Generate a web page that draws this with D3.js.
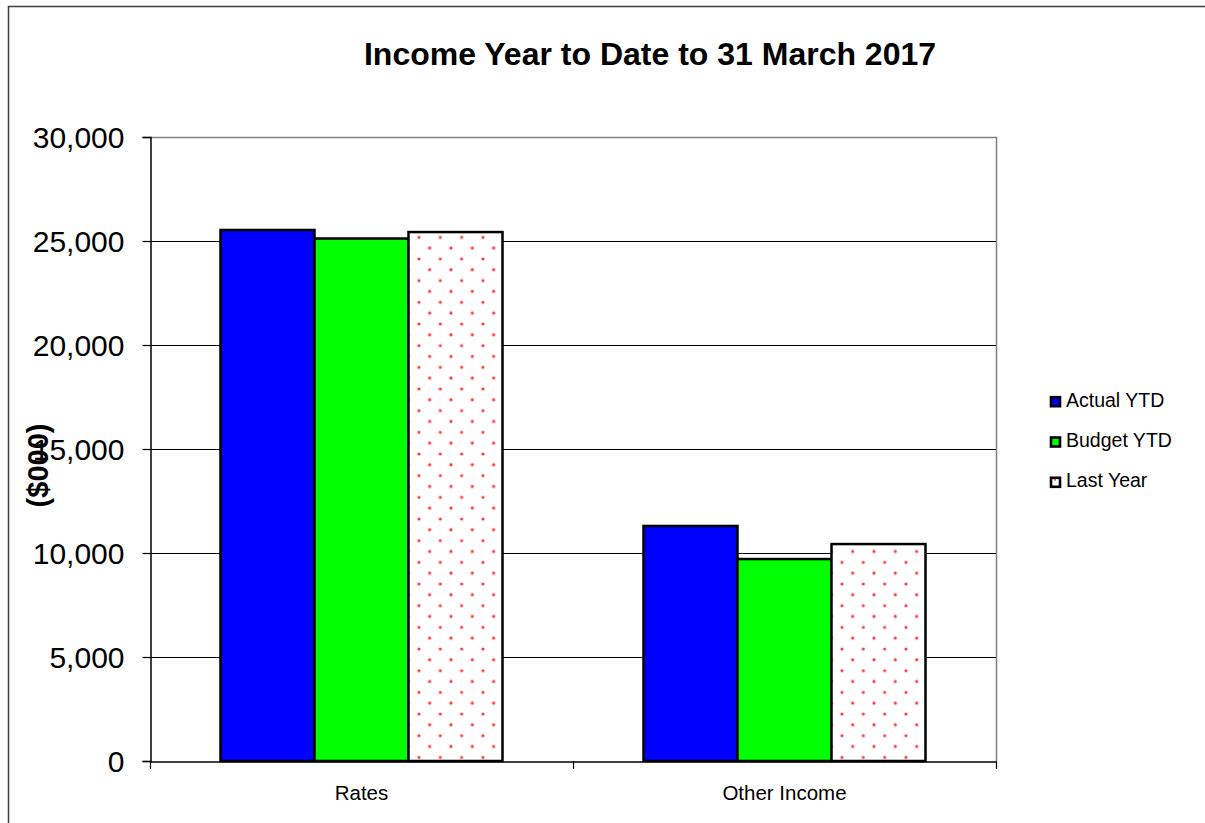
<!DOCTYPE html>
<html>
<head>
<meta charset="utf-8">
<script src="https://cdn.jsdelivr.net/npm/d3@7"></script>
<style>
  html, body { margin: 0; padding: 0; background: #fff; }
  svg { display: block; }
  text { font-family: "Liberation Sans", Arial, sans-serif; fill: #000; }
</style>
</head>
<body>
<svg id="chart" width="1205" height="823"></svg>
<script>
// Income year-to-date figures ($000)
const categories = ["Rates", "Other Income"];
const seriesNames = ["Actual YTD", "Budget YTD", "Last Year"];
const actualYTD = [25530, 11300];
const budgetYTD = [25120, 9710];
const lastYear  = [25430, 10430];
const yTicks = [0, 5000, 10000, 15000, 20000, 25000, 30000];

const seriesValues = [actualYTD, budgetYTD, lastYear];

const svg = d3.select("#chart");
const defs = svg.append("defs");

// sparse red dot fill used for the "Last Year" series
const pat = defs.append("pattern")
  .attr("id", "dots")
  .attr("patternUnits", "userSpaceOnUse")
  .attr("x", 418.3).attr("y", 237.3)
  .attr("width", 21.33).attr("height", 21.67);
pat.append("rect").attr("width", 21.33).attr("height", 21.67).attr("fill", "#fff");
[[0, 0], [21.33, 0], [0, 21.67], [21.33, 21.67], [10.67, 10.83]].forEach(([cx, cy]) => {
  pat.append("circle").attr("cx", cx).attr("cy", cy).attr("r", 1.6).attr("fill", "#ff3a3a");
});

const fills = ["#0000ff", "#00ff00", "url(#dots)"];

// chart area frame
svg.append("rect")
  .attr("x", 8.5).attr("y", 6.5).attr("width", 1400).attr("height", 1000)
  .attr("fill", "none").attr("stroke", "#404040").attr("stroke-width", 1.5);

const plot = { left: 150, top: 137, right: 996, bottom: 761 };

const y = d3.scaleLinear().domain([0, 30000]).range([plot.bottom, plot.top]);
const x = d3.scaleBand().domain(categories).range([plot.left, plot.right]);
// three adjoining bars filling the middle two thirds of each category band
const xs = d3.scaleBand().domain(seriesNames)
  .range([0, x.bandwidth()]).paddingInner(0).paddingOuter(0.75);

// plot area border (top / right)
svg.append("path")
  .attr("d", `M${plot.left},${plot.top + 0.5}H${plot.right + 0.5}V${plot.bottom}`)
  .attr("fill", "none").attr("stroke", "#808080").attr("stroke-width", 1.5);

// horizontal gridlines
svg.append("g")
  .selectAll("line")
  .data(yTicks.filter(t => t > 0 && t < 30000))
  .join("line")
  .attr("x1", plot.left).attr("x2", plot.right)
  .attr("y1", d => Math.round(y(d)) + 0.5).attr("y2", d => Math.round(y(d)) + 0.5)
  .attr("stroke", "#000").attr("stroke-width", 1);

// bars
const groups = svg.append("g")
  .selectAll("g")
  .data(categories)
  .join("g")
  .attr("transform", d => `translate(${x(d)},0)`);

groups.selectAll("rect")
  .data((c, i) => seriesNames.map((s, j) => ({ s, j, v: seriesValues[j][i] })))
  .join("rect")
  .attr("x", d => xs(d.s))
  .attr("width", xs.bandwidth())
  .attr("y", d => y(d.v))
  .attr("height", d => y(0) - y(d.v))
  .attr("fill", d => fills[d.j])
  .attr("stroke", "#000")
  .attr("stroke-width", 2.5);

// y axis
const yAxis = svg.append("g")
  .attr("transform", `translate(${plot.left + 0.5},0)`)
  .call(d3.axisLeft(y).tickValues(yTicks).tickFormat(d3.format(",")).tickSize(8).tickPadding(18));
yAxis.select(".domain").attr("stroke", "#000").attr("stroke-width", 1.5);
yAxis.selectAll(".tick line").attr("stroke", "#000").attr("stroke-width", 1.2);
yAxis.selectAll(".tick text")
  .style("font-family", "'Liberation Sans', Arial, sans-serif")
  .style("font-size", "30px").attr("dy", "0.35em").attr("fill", "#000");

// x axis with ticks on category boundaries
const xAxis = svg.append("g")
  .attr("transform", `translate(0,${plot.bottom + 0.5})`)
  .call(d3.axisBottom(x).tickSize(0).tickPadding(24));
xAxis.select(".domain").attr("stroke", "#000").attr("stroke-width", 1.5);
xAxis.selectAll(".tick text")
  .style("font-family", "'Liberation Sans', Arial, sans-serif")
  .style("font-size", "20.5px").attr("fill", "#000");

const boundaries = categories.map(c => x(c)).concat([x.range()[1]]);
svg.append("g")
  .selectAll("line")
  .data(boundaries)
  .join("line")
  .attr("x1", d => Math.round(d) + 0.5).attr("x2", d => Math.round(d) + 0.5)
  .attr("y1", plot.bottom).attr("y2", plot.bottom + 8)
  .attr("stroke", "#000").attr("stroke-width", 1.2);

// title
svg.append("text")
  .attr("x", 650).attr("y", 65)
  .attr("text-anchor", "middle")
  .style("font-size", "32px").style("font-weight", "bold")
  .text("Income Year to Date to 31 March 2017");

// y axis title
svg.append("text")
  .attr("transform", "translate(48,465.5) rotate(-90)")
  .attr("text-anchor", "middle")
  .style("font-size", "29px").style("font-weight", "bold")
  .text("($000)");

// legend
const legend = svg.append("g")
  .selectAll("g")
  .data(seriesNames)
  .join("g")
  .attr("transform", (d, i) => `translate(1050,${401.7 + i * 40.3})`);
legend.append("rect")
  .attr("x", 1).attr("y", -4.5).attr("width", 9).attr("height", 9)
  .attr("fill", (d, i) => i === 2 ? "#fff" : fills[i])
  .attr("stroke", "#000").attr("stroke-width", 2.6);
legend.filter((d, i) => i === 2).append("circle")
  .attr("cx", 5).attr("cy", -2.5).attr("r", 1).attr("fill", "#ff3030");
legend.append("text")
  .attr("x", 16).attr("y", 5)
  .style("font-size", "19.5px")
  .text(d => d);
</script>
</body>
</html>
